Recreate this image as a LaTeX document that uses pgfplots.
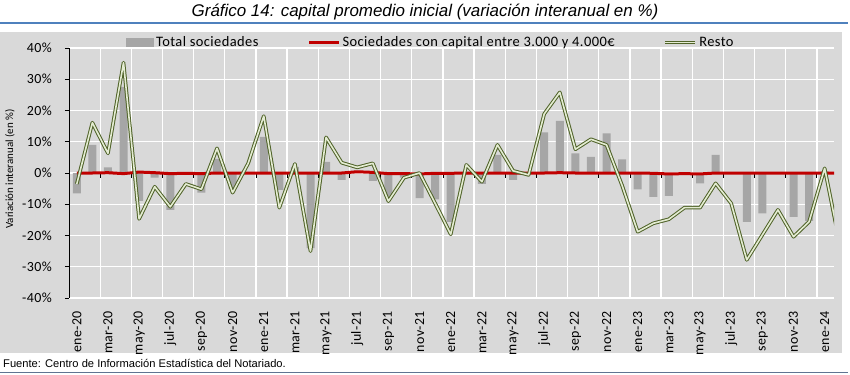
\documentclass[border=0pt]{standalone}
\usepackage{pgfplots}
\usepackage{pgfplotstable}
\pgfplotsset{compat=1.18}
\usepackage{fontspec}
\setmainfont{Carlito}
\newfontfamily\arial{Liberation Sans}
\newfontfamily\legfont[LetterSpace=3]{Carlito}
\definecolor{bgray}{RGB}{217,217,217}
\definecolor{bargray}{RGB}{166,166,166}
\definecolor{exred}{RGB}{192,0,0}
\definecolor{olivedark}{RGB}{79,98,40}
\definecolor{olivelight}{RGB}{228,236,210}
\definecolor{titleblue}{RGB}{79,129,189}
\definecolor{footline}{RGB}{96,116,146}

\pgfplotstableread{
x total rango resto
0 -6.5 0 -3.5
1 9 0 16.1
2 1.8 0.1 6.3
3 27.6 -0.2 35.3
4 -8.9 0.3 -14.7
5 -1.5 0.1 -4.4
6 -11.8 -0.2 -10.8
7 -0.5 -0.1 -3.5
8 -6.3 -0.2 -5.2
9 4.5 0 7.9
10 -5 0 -6.3
11 0.3 0 3.1
12 11.6 0 18.2
13 -5.4 0 -11.1
14 2 0 2.9
15 -24 0 -25
16 3.6 0 11.4
17 -2.2 0 3.3
18 0.8 0.4 1.8
19 -2.5 0.2 3.1
20 -7.5 -0.2 -9
21 -1.5 -0.2 -1.5
22 -8 -0.3 0
23 -8.4 -0.1 -9.7
24 -15.6 -0.1 -19.6
25 -0.5 0 2.6
26 -3.5 0 -2.8
27 5.8 0 9
28 -2.2 0 0.7
29 0.3 0 -0.6
30 13 0 18.9
31 16.7 0.1 25.8
32 6.3 0 7.6
33 5.2 0 10.8
34 12.7 0 9
35 4.4 0 -4
36 -5.2 0 -18.8
37 -7.6 -0.1 -16.1
38 -7.3 -0.3 -14.8
39 -0.5 -0.2 -11.1
40 -3.3 -0.3 -11.1
41 5.8 0 -3.3
42 -0.3 0 -9.7
43 -15.6 0 -27.8
44 -12.9 0 -19.8
45 -0.3 0 -11.8
46 -14 0 -20.4
47 -15.3 0 -15.6
48 0.5 0 1.5
49 -10 0 -23.5
}\data

\begin{document}
\begin{tikzpicture}[x=1bp,y=1bp]
\path[use as bounding box] (-69,-76) rectangle (781,298);
\fill[bgray] (-69,-55) rectangle (773,266);
\node[font=\arial\itshape\fontsize{17}{19}\selectfont] at (356,286) {Gráfico 14: capital promedio inicial (variación interanual en \%)};
\draw[titleblue, line width=2bp] (-69,275) -- (779,275);
\node[anchor=base west, inner sep=0pt, font=\arial\fontsize{11.2}{13}\selectfont] at (-66,-69) {Fuente: Centro de Información Estadística del Notariado.};
\draw[footline, line width=1bp] (-69,-74) -- (779,-74);
\node[rotate=90, inner sep=0pt, font=\fontsize{11}{13}\selectfont] at (-59,129) {Variación interanual (en \%)};
\begin{axis}[
  at={(0,0)}, anchor=south west,
  scale only axis, width=765bp, height=250bp,
  xmin=-0.5, xmax=48.6, ymin=-40, ymax=40,
  axis y line*=left, axis x line*=bottom,
  x axis line style={draw=none},
  y axis line style={-, black, line width=0.8bp},
  xtick={0,2,...,48},
  xticklabels={ene-20,mar-20,may-20,jul-20,sep-20,nov-20,ene-21,mar-21,may-21,jul-21,sep-21,nov-21,ene-22,mar-22,may-22,jul-22,sep-22,nov-22,ene-23,mar-23,may-23,jul-23,sep-23,nov-23,ene-24},
  xtick style={draw=none},
  minor xtick={1.5,3.5,...,47.5},
  minor tick length=0pt,
  xminorgrids=true,
  minor x grid style={white, line width=1.3bp},
  ytick={-40,-30,...,40},
  yticklabels={-40\%,-30\%,-20\%,-10\%,0\%,10\%,20\%,30\%,40\%},
  ymajorgrids=true,
  major grid style={white, line width=1.3bp},
  tick align=outside,
  major tick length=4bp,
  ytick style={black, line width=0.8bp},
  xticklabel style={rotate=90, anchor=east, inner sep=0pt, font=\legfont\fontsize{14}{16}\selectfont},
  xticklabel shift=9bp,
  yticklabel style={anchor=east, inner sep=0pt, font=\legfont\fontsize{14}{16}\selectfont},
  yticklabel shift=13bp,
  legend style={at={(0.473,1.022)}, anchor=center, draw=none, fill=none,
    legend columns=-1, font=\legfont\fontsize{14.5}{16}\selectfont,
    /tikz/every even column/.append style={column sep=47bp}},
  legend cell align=left,
]
\pgfplotsinvokeforeach{1.5,3.5,...,47.5}{
  \draw[black, line width=0.8bp] (axis cs:#1,0) -- ([yshift=-5bp]axis cs:#1,0);
}
\addplot[ybar, bar width=8bp, fill=bargray, draw=none,
  legend image code/.code={\fill[bargray] (0bp,-4.5bp) rectangle (28bp,4.5bp);}]
  table[x=x, y=total]{\data};
\addlegendentry{Total sociedades}
\addplot[exred, line width=3bp, no markers, line join=round,
  legend image code/.code={\draw[exred, line width=3bp] (0bp,0bp) -- (30bp,0bp);}]
  table[x=x, y=rango]{\data};
\addlegendentry{Sociedades con capital entre 3.000 y 4.000€}
\addplot[draw=olivedark, line width=1bp, double=olivelight, double distance=1.6bp, no markers, line join=round,
  legend image code/.code={\draw[olivedark, line width=1bp, double=olivelight, double distance=1.6bp] (0bp,0bp) -- (30bp,0bp);}]
  table[x=x, y=resto]{\data};
\addlegendentry{Resto}
\end{axis}
\end{tikzpicture}
\end{document}
